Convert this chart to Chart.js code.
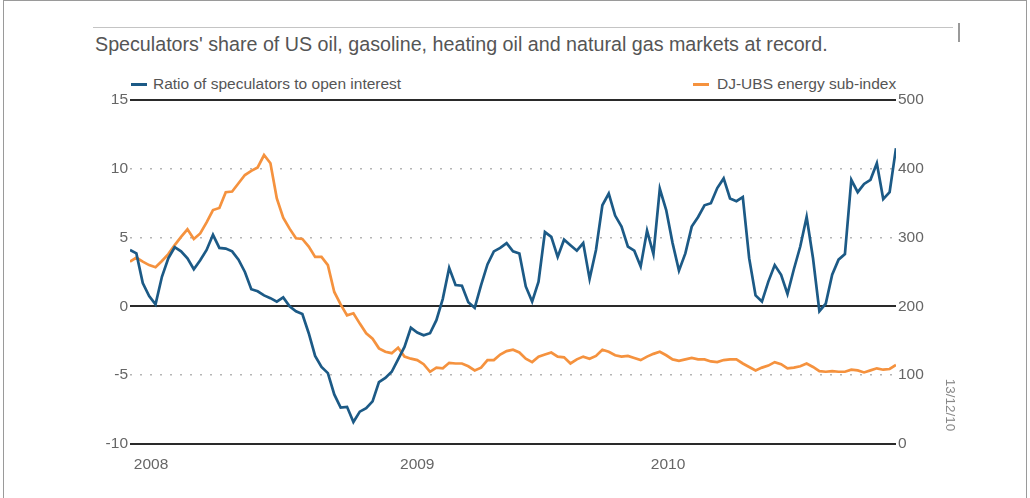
<!DOCTYPE html>
<html>
<head>
<meta charset="utf-8">
<script src="https://cdn.jsdelivr.net/npm/chart.js@4.4.1/dist/chart.umd.min.js"></script>
<style>
  html, body { margin: 0; padding: 0; background: #fff; }
  body { width: 1030px; height: 498px; position: relative; overflow: hidden; font-family: "Liberation Sans", Arial, sans-serif; }
  #frame { position: absolute; left: 3px; top: 0; width: 1024px; height: 520px; border: 1px solid #9a9a9a; box-sizing: border-box; }
  #rule { position: absolute; left: 93px; top: 27px; width: 860px; height: 1px; background: #c4c4c4; }
  #ruleTick { position: absolute; left: 958px; top: 23px; width: 2px; height: 19px; background: #9a9a9a; }
  #title { position: absolute; left: 95px; top: 33px; font-size: 19.7px; line-height: 22px; color: #555; white-space: nowrap; }
  .leg { position: absolute; top: 75px; font-size: 15.5px; line-height: 18px; color: #555; white-space: nowrap; }
  .dash { position: absolute; top: 83px; height: 3px; width: 16px; }
  #date { position: absolute; left: 920px; top: 397px; width: 60px; height: 16px; line-height: 16px; font-size: 13.5px; color: #888; text-align: center; transform: rotate(90deg); }
  canvas { position: absolute; left: 0; top: 0; }
</style>
</head>
<body>
<div id="frame"></div>
<div id="rule"></div>
<div id="ruleTick"></div>
<div id="title">Speculators' share of US oil, gasoline, heating oil and natural gas markets at record.</div>
<div class="dash" style="left:131px; background:#1c5a86"></div>
<div class="leg" style="left:153px">Ratio of speculators to open interest</div>
<div class="dash" style="left:693px; background:#f5923e"></div>
<div class="leg" style="left:717px">DJ-UBS energy sub-index</div>
<canvas id="chart" width="1030" height="498"></canvas>
<div id="date">13/12/10</div>

<script>
// --- data (one sample every ~6.4px, Jan 2008 -> Dec 2010) ---
const blueRatio = [
  4.1, 3.85, 1.7, 0.75, 0.15, 2.15, 3.5, 4.3, 4.0, 3.5,
  2.7, 3.35, 4.1, 5.2, 4.25, 4.2, 4.0, 3.4, 2.5, 1.25,
  1.1, 0.8, 0.6, 0.35, 0.65, 0.0, -0.35, -0.55, -1.95, -3.6,
  -4.4, -4.85, -6.4, -7.35, -7.3, -8.4, -7.65, -7.4, -6.9, -5.5,
  -5.2, -4.75, -3.85, -2.95, -1.55, -1.9, -2.1, -1.95, -1.0, 0.55,
  2.8, 1.55, 1.5, 0.3, -0.1, 1.55, 3.05, 4.0, 4.25, 4.6,
  4.0, 3.85, 1.45, 0.35, 1.8, 5.4, 5.05, 3.6, 4.85, 4.45,
  4.05, 4.6, 2.0, 4.1, 7.35, 8.2, 6.6, 5.8, 4.35, 4.05,
  2.9, 5.5, 3.8, 8.55, 7.0, 4.6, 2.6, 3.85, 5.8, 6.5,
  7.35, 7.5, 8.6, 9.3, 7.85, 7.65, 7.95, 3.5, 0.8, 0.35,
  1.8, 3.0, 2.3, 0.9, 2.7, 4.35, 6.5, 3.5, -0.35, 0.2,
  2.3, 3.4, 3.8, 9.2, 8.3, 8.9, 9.2, 10.4, 7.8, 8.3,
  11.5
];

const energyIndex = [
  265, 271, 265, 260, 257, 266, 276, 289, 301, 312,
  298, 306, 322, 340, 343, 366, 367, 379, 391, 397,
  402, 420, 408, 357, 329, 313, 299, 298, 287, 272,
  272, 260, 221, 203, 187, 190, 175, 161, 153, 139,
  134, 132, 140, 127, 124, 122, 116, 105, 111, 110,
  118, 117, 117, 113, 107, 111, 122, 122, 130, 135,
  137, 133, 124, 119, 127, 130, 133, 127, 126, 117,
  123, 127, 124, 128, 137, 134, 129, 127, 128, 125,
  122, 127, 131, 134, 129, 123, 121, 123, 125, 123,
  123, 120, 119, 122, 123, 123, 117, 112, 107, 111,
  114, 119, 116, 110, 111, 113, 117, 112, 106, 105,
  106, 105, 105, 108, 107, 104, 107, 110, 108, 109,
  115
];

const sampleIndex = blueRatio.map((_, i) => i);

const yearLabels = ["2008", "2009", "2010"];
const yearAt = [3.3, 45, 84.3];   // sample index under each year label

const leftTicks = [-10, -5, 0, 5, 10, 15];
const rightTicks = [0, 100, 200, 300, 400, 500];
const solidLines = [15, 0, -10];

const tickFont = { family: "'Liberation Sans', Arial, sans-serif", size: 15.5 };

const ctx = document.getElementById("chart").getContext("2d");

new Chart(ctx, {
  type: "line",
  data: {
    labels: sampleIndex,
    datasets: [{
      label: "Ratio of speculators to open interest",
      data: blueRatio,
      yAxisID: "y",
      borderColor: "#1c5a86",
      borderWidth: 2.7,
      pointRadius: 0,
      tension: 0
    }, {
      label: "DJ-UBS energy sub-index",
      data: energyIndex,
      yAxisID: "y1",
      borderColor: "#f5923e",
      borderWidth: 2.7,
      pointRadius: 0,
      tension: 0
    }]
  },
  options: {
    responsive: false,
    animation: false,
    layout: { padding: { top: 100, left: 0, right: 0, bottom: 0 } },
    plugins: { legend: { display: false }, tooltip: { enabled: false } },
    scales: {
      x: {
        type: "linear",
        min: 0,
        max: blueRatio.length - 1,
        grid: { display: false },
        border: { display: false },
        afterBuildTicks: (axis) => { axis.ticks = yearAt.map(v => ({ value: v })); },
        afterFit: (axis) => { axis.height = 54; },
        ticks: {
          autoSkip: false,
          maxRotation: 0,
          padding: 3,
          color: "#666",
          font: tickFont,
          callback: (v) => yearLabels[yearAt.indexOf(v)]
        }
      },
      y: {
        position: "left",
        min: -10,
        max: 15,
        afterBuildTicks: (axis) => { axis.ticks = leftTicks.map(v => ({ value: v })); },
        afterFit: (axis) => { axis.width = 130; },
        ticks: { padding: 2, color: "#666", font: tickFont },
        grid: {
          drawTicks: false,
          color: (c) => solidLines.includes(c.tick.value) ? "#2a2a2a" : "#b5b5b5",
          lineWidth: (c) => solidLines.includes(c.tick.value) ? 2 : 1.6
        },
        border: {
          display: false,
          dash: (c) => solidLines.includes(c.tick.value) ? [] : [2, 8]
        }
      },
      y1: {
        position: "right",
        min: 0,
        max: 500,
        afterBuildTicks: (axis) => { axis.ticks = rightTicks.map(v => ({ value: v })); },
        afterFit: (axis) => { axis.width = 134; },
        ticks: { padding: 2, color: "#666", font: tickFont },
        grid: { drawOnChartArea: false, drawTicks: false },
        border: { display: false }
      }
    }
  }
});
</script>
</body>
</html>
